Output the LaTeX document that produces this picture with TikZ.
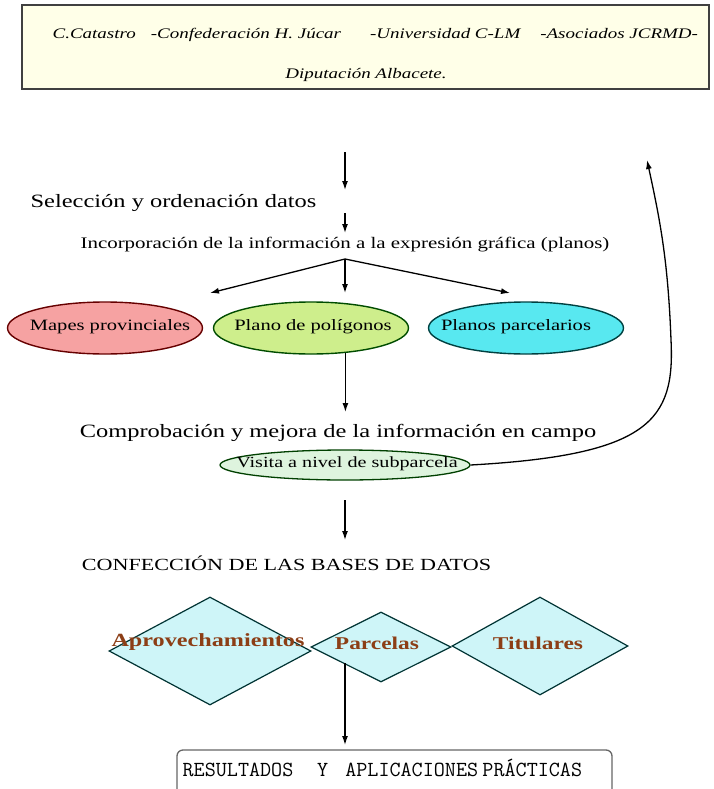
\documentclass[tikz,border=0pt]{standalone}
\usepackage{fontspec}
\setmainfont{Liberation Serif}[FakeStretch=1.3]
\usetikzlibrary{shapes.geometric, arrows.meta}
\definecolor{ivory}{RGB}{255,255,232}
\definecolor{rosa}{RGB}{246,162,162}
\definecolor{lima}{RGB}{206,238,140}
\definecolor{celeste}{RGB}{88,232,240}
\definecolor{menta}{RGB}{222,244,222}
\definecolor{agua}{RGB}{206,245,248}
\definecolor{marron}{RGB}{140,62,22}
\begin{document}
\begin{tikzpicture}[x=1pt, y=-1pt, >={Latex[length=9pt,width=6pt]}, line width=1.3pt,
    txt/.style = {inner sep=0pt, font=\fontsize{18.8}{20}\selectfont},
    oval/.style = {draw, ellipse, line width=1.4pt, minimum width=195pt, minimum height=52pt, inner sep=0pt},
    rombo/.style = {draw=black!60!teal, fill=agua, diamond, inner sep=0pt, line width=1.2pt},
    tabla/.style = {inner sep=0pt, text=marron, font=\fontsize{18}{19}\selectfont\bfseries}]
  \useasboundingbox (0,0) rectangle (714,789);
  % organismos
  \node[draw=black!75, fill=ivory, line width=1.6pt, minimum width=687pt, minimum height=84pt, inner sep=0pt] (org) at (365.5,47) {};
  \node[txt, anchor=west, font=\fontsize{14.6}{16}\selectfont\itshape] (org1) at (52,35) {C.Catastro\hspace{15pt}-Confederación H. Júcar\hspace{29pt}-Universidad C-LM\hspace{20pt}-Asociados JCRMD-};
  \node[txt, font=\fontsize{14.6}{16}\selectfont\itshape] (org2) at (366,75) {Diputación Albacete.};
  % pasos
  \coordinate (a1) at (345,152);
  \coordinate (a2) at (345,190);
  \node[txt, anchor=west] (sel) at (30,203) {Selección y ordenación datos};
  \coordinate (a3) at (345,213);
  \coordinate (a4) at (345,233);
  \node[txt, font=\fontsize{16.1}{18}\selectfont] (inc) at (345,245) {Incorporación de la información a la expresión gráfica (planos)};
  \coordinate (fork) at (345,259);
  \coordinate (f1) at (210,293);
  \coordinate (f2) at (345,293);
  \coordinate (f3) at (510,293);
  \node[oval, draw=red!40!black, fill=rosa] (mapas) at (105,328) {};
  \node[oval, draw=green!30!black, fill=lima] (plano) at (311,328) {};
  \node[oval, draw=teal!50!black, fill=celeste] (parc) at (526,328) {};
  \node[txt, font=\fontsize{15.8}{17}\selectfont] (mapas t) at (110,327) {Mapes provinciales};
  \node[txt, font=\fontsize{15.8}{17}\selectfont] (plano t) at (313,327) {Plano de polígonos};
  \node[txt, font=\fontsize{15.8}{17}\selectfont] (parc t) at (516,327) {Planos parcelarios};
  \coordinate (a5) at (345,412);
  \node[txt] (comp) at (338,433) {Comprobación y mejora de la información en campo};
  \node[draw=green!25!black, fill=menta, ellipse, line width=1.3pt, minimum width=250pt, minimum height=30pt, inner sep=0pt] (visita) at (345,465) {};
  \node[txt, font=\fontsize{15.5}{17}\selectfont] (visita t) at (347,464) {Visita a nivel de subparcela};
  \coordinate (vuelta) at (647,160);
  \coordinate (a6) at (345,500);
  \coordinate (a7) at (345,540);
  \node[txt, font=\fontsize{17}{19}\selectfont] (bases) at (286.5,563) {CONFECCIÓN DE LAS BASES DE DATOS};
  % bases de datos
  \node[rombo, minimum width=202pt, minimum height=108pt] (r1) at (210,651) {};
  \node[rombo, minimum width=140pt, minimum height=70pt] (r2) at (381,647) {};
  \node[rombo, minimum width=176pt, minimum height=98pt] (r3) at (540,646) {};
  \node[tabla, font=\fontsize{18.6}{19}\selectfont\bfseries] (aprov) at (208,642) {Aprovechamientos};
  \node[tabla] (parcelas) at (377,643) {Parcelas};
  \node[tabla] (titulares) at (538,643) {Titulares};
  \coordinate (a8) at (345,663);
  \coordinate (a9) at (345,745);
  \node[draw=black!60, rounded corners=6pt, line width=1.3pt, minimum width=435pt, minimum height=48pt, inner sep=0pt] (res) at (394.5,774) {};
  \node[txt, anchor=west, font=\fontsize{21.5}{22}\ttfamily] (res t) at (182,768) {RESULTADOS\hspace{1.1em}Y\hspace{0.8em}APLICACIONES\hspace{0.2em}PRÁCTICAS};
  % flechas
  \draw[->] (a1) -- (a2);
  \draw[->] (a3) -- (a4);
  \draw[->] (fork) -- (f1);
  \draw[->] (fork) -- (f2);
  \draw[->] (fork) -- (f3);
  \draw[->] (plano.-36) -- (plano.-36 |- a5);
  \draw[->] (visita.east) .. controls (650,455) and (675,420) .. (671,340) .. controls (668,260) and (660,220) .. (vuelta);
  \draw[->] (a6) -- (a7);
  \draw[->] (a8) -- (a9);
\end{tikzpicture}
\end{document}
